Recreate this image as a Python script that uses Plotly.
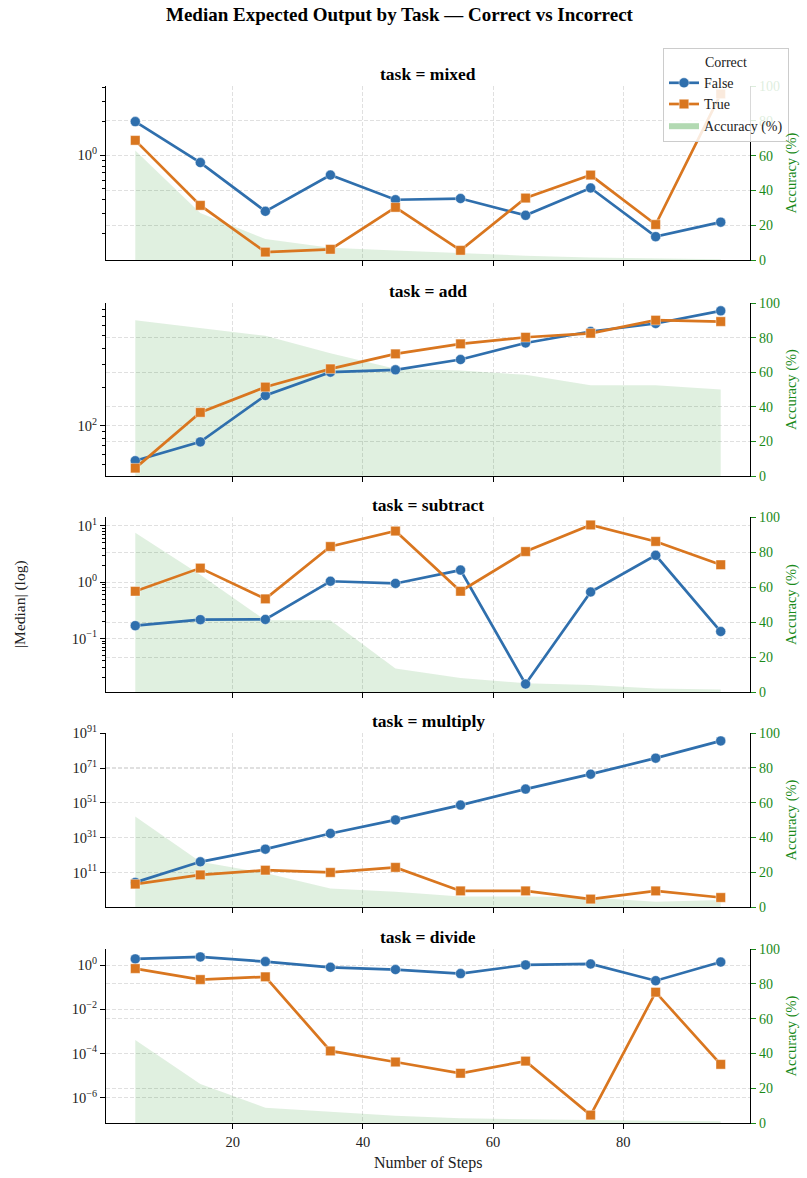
import numpy as np
import plotly.graph_objects as go
from plotly.subplots import make_subplots

# ---------------- data ----------------
steps = [5, 15, 25, 35, 45, 55, 65, 75, 85, 95]
tasks = ["mixed", "add", "subtract", "multiply", "divide"]

mixed_false = [2.0, 0.86, 0.315, 0.665, 0.40, 0.41, 0.29, 0.51, 0.187, 0.252]
mixed_true = [1.36, 0.356, 0.136, 0.144, 0.342, 0.141, 0.414, 0.665, 0.24, 3.54]
mixed_acc = [63, 27, 12, 7, 5.5, 4, 2.5, 1.5, 1, 0.5]

add_false = [53.5, 75, 172, 261, 272, 327, 440, 540, 623, 781]
add_true = [46.9, 127, 200, 277, 362, 433, 487, 523, 661, 645]
add_acc = [90, 85.5, 81, 71, 62, 61, 58.5, 52.5, 52.5, 50]

subtract_false = [0.169, 0.216, 0.218, 1.04, 0.95, 1.64, 0.0155, 0.67, 3.0, 0.133]
subtract_true = [0.69, 1.78, 0.505, 4.3, 8.1, 0.69, 3.5, 10.4, 5.3, 2.04]
subtract_acc = [91, 67, 41, 41, 13.5, 8, 5, 4, 2, 1.5]

multiply_false = [2e5, 1.3e17, 2.5e24, 2.5e33, 1.6e41, 5e49, 8e58, 3e67, 5e76, 4e86]
multiply_true = [2e4, 4e9, 2e12, 1e11, 8e13, 2.5, 2.5, 5e-5, 2.5, 4e-4]
multiply_acc = [52, 26, 19.5, 10.7, 8.8, 6, 6, 5.5, 3, 4]

divide_false = [1.95, 2.4, 1.47, 0.81, 0.64, 0.42, 1.04, 1.15, 0.2, 1.4]
divide_true = [0.71, 0.225, 0.3, 1.3e-4, 4.1e-5, 1.26e-5, 4.5e-5, 1.6e-7, 0.06, 3.2e-5]
divide_acc = [47.7, 22.4, 8.8, 6.5, 4.2, 2.7, 2.1, 1.7, 1.3, 1.0]

false_vals = [mixed_false, add_false, subtract_false, multiply_false, divide_false]
true_vals = [mixed_true, add_true, subtract_true, multiply_true, divide_true]
acc_vals = [mixed_acc, add_acc, subtract_acc, multiply_acc, divide_acc]

major_exps = [[0], [2], [-1, 0, 1], [11, 31, 51, 71, 91], [-6, -4, -2, 0]]
show_minor = [True, True, True, False, False]
acc_ticks = [0, 20, 40, 60, 80, 100]
x_ticks = [20, 40, 60, 80]

# ---------------- style ----------------
W, H = 807, 1178
FONT = "Liberation Serif"
BLUE = "#2f6fad"
ORANGE = "#d9761f"
GREEN = "#1a8a1a"
GRID = "#e0e0e0"
GDASH = "4px,2px"
tops = [86, 303, 517, 733, 949]
bots = [260, 476, 692, 907, 1123]
X0, X1 = 106, 750


def sup(e):
    s = str(e).replace("-", "\u2212")
    return "10<sup>" + s + "</sup>"


fig = make_subplots(rows=5, cols=1,
                    specs=[[{"secondary_y": True}] for _ in range(5)])

for i, task in enumerate(tasks):
    r = i + 1
    fig.add_trace(go.Scatter(
        x=steps, y=acc_vals[i], mode="lines", fill="tozeroy",
        fillcolor="rgba(0,128,0,0.12)", line=dict(width=0, color="rgba(0,0,0,0)"),
        showlegend=False, hoverinfo="skip"), row=r, col=1, secondary_y=False)
    fig.add_trace(go.Scatter(
        x=steps, y=false_vals[i], mode="lines+markers", name="False",
        legendgroup="False", showlegend=(i == 0), legendrank=1,
        line=dict(color=BLUE, width=2.7),
        marker=dict(symbol="circle", size=10, color=BLUE,
                    line=dict(color="rgba(255,255,255,0.6)", width=0.7))),
        row=r, col=1, secondary_y=True)
    fig.add_trace(go.Scatter(
        x=steps, y=true_vals[i], mode="lines+markers", name="True",
        legendgroup="True", showlegend=(i == 0), legendrank=2,
        line=dict(color=ORANGE, width=2.7),
        marker=dict(symbol="square", size=9.5, color=ORANGE,
                    line=dict(color="rgba(255,255,255,0.6)", width=0.7))),
        row=r, col=1, secondary_y=True)

    dom_y = [1 - bots[i] / H, 1 - tops[i] / H]
    fig.update_xaxes(row=r, col=1, domain=[X0 / W, X1 / W], range=[0.5, 99.5],
                     tickvals=x_ticks, showticklabels=(i == 4),
                     ticks="outside", ticklen=5, tickcolor="black", tickwidth=1,
                     showline=True, linecolor="black", linewidth=1.2,
                     showgrid=True, gridcolor=GRID, griddash=GDASH, gridwidth=0.8,
                     zeroline=False, automargin=False,
                     tickfont=dict(family=FONT, size=14.5, color="#222"))

    fig.update_yaxes(row=r, col=1, secondary_y=False, domain=dom_y, side="right",
                     range=[0, 100], tickvals=acc_ticks,
                     ticks="outside", ticklen=5, tickcolor=GREEN, tickwidth=1,
                     showline=True, linecolor="black", linewidth=1.2,
                     showgrid=True, gridcolor=GRID, griddash=GDASH, gridwidth=0.8,
                     zeroline=False, automargin=False,
                     tickfont=dict(family=FONT, size=14, color=GREEN),
                     title=dict(text="Accuracy (%)", font=dict(family=FONT, size=14.5, color=GREEN),
                                standoff=6))

    allv = np.log10(np.array(false_vals[i] + true_vals[i], dtype=float))
    lo, hi = allv.min(), allv.max()
    pad = 0.05 * (hi - lo)
    rng = [lo - pad, hi + pad]
    minor_vals = []
    if show_minor[i]:
        for d in range(int(np.floor(rng[0])) - 1, int(np.ceil(rng[1])) + 1):
            for k in range(2, 10):
                v = k * 10.0 ** d
                if rng[0] <= np.log10(v) <= rng[1]:
                    minor_vals.append(v)
    fig.update_yaxes(row=r, col=1, secondary_y=True, type="log", side="left",
                     range=rng,
                     tickmode="array",
                     tickvals=[10.0 ** e for e in major_exps[i]],
                     ticktext=[sup(e) for e in major_exps[i]],
                     ticks="outside", ticklen=5, tickcolor="black", tickwidth=1,
                     minor=dict(tickmode="array", tickvals=minor_vals, ticks="outside",
                                ticklen=3, tickcolor="black", showgrid=False),
                     showline=True, linecolor="black", linewidth=1.2,
                     showgrid=True, gridcolor=GRID, griddash=GDASH, gridwidth=0.8,
                     zeroline=False, automargin=False,
                     tickfont=dict(family=FONT, size=14.5, color="#222"))

    fig.add_annotation(x=(X0 + X1) / 2 / W, y=1 - tops[i] / H, xref="paper", yref="paper",
                       text="<b>task = " + task + "</b>", showarrow=False,
                       xanchor="center", yanchor="bottom",
                       font=dict(family=FONT, size=17.5, color="black"))

# legend-only patch for accuracy
fig.add_trace(go.Scatter(x=[None], y=[None], mode="lines", fill="toself",
                         fillcolor="rgba(0,128,0,0.3)", line=dict(width=0, color="rgba(0,0,0,0)"),
                         name="Accuracy (%)", legendrank=3, showlegend=True),
              row=1, col=1, secondary_y=False)

fig.add_annotation(x=400 / W, y=1 - 14 / H, xref="paper", yref="paper",
                   text="<b>Median Expected Output by Task \u2014 Correct vs Incorrect</b>",
                   showarrow=False, xanchor="center", yanchor="middle",
                   font=dict(family=FONT, size=19, color="black"))
fig.add_annotation(x=(X0 + X1) / 2 / W, y=1 - 1163 / H, xref="paper", yref="paper",
                   text="Number of Steps", showarrow=False, xanchor="center", yanchor="middle",
                   font=dict(family=FONT, size=16, color="#222"))
fig.add_annotation(x=20 / W, y=1 - 604 / H, xref="paper", yref="paper",
                   text="|Median| (log)", showarrow=False, textangle=-90,
                   xanchor="center", yanchor="middle",
                   font=dict(family=FONT, size=15.5, color="#222"))

fig.update_layout(
    width=W, height=H,
    margin=dict(l=0, r=0, t=0, b=0, autoexpand=False),
    paper_bgcolor="white", plot_bgcolor="white",
    font=dict(family=FONT, size=14, color="#222"),
    legend=dict(x=663 / W, y=1 - 48 / H, xanchor="left", yanchor="top",
                title=dict(text="Correct", side="top center",
                           font=dict(family=FONT, size=14, color="#222")),
                bgcolor="rgba(255,255,255,0.85)", bordercolor="#cccccc", borderwidth=1,
                font=dict(family=FONT, size=14, color="#222"),
                tracegroupgap=0, itemwidth=30),
)

fig.write_html("out.html")
